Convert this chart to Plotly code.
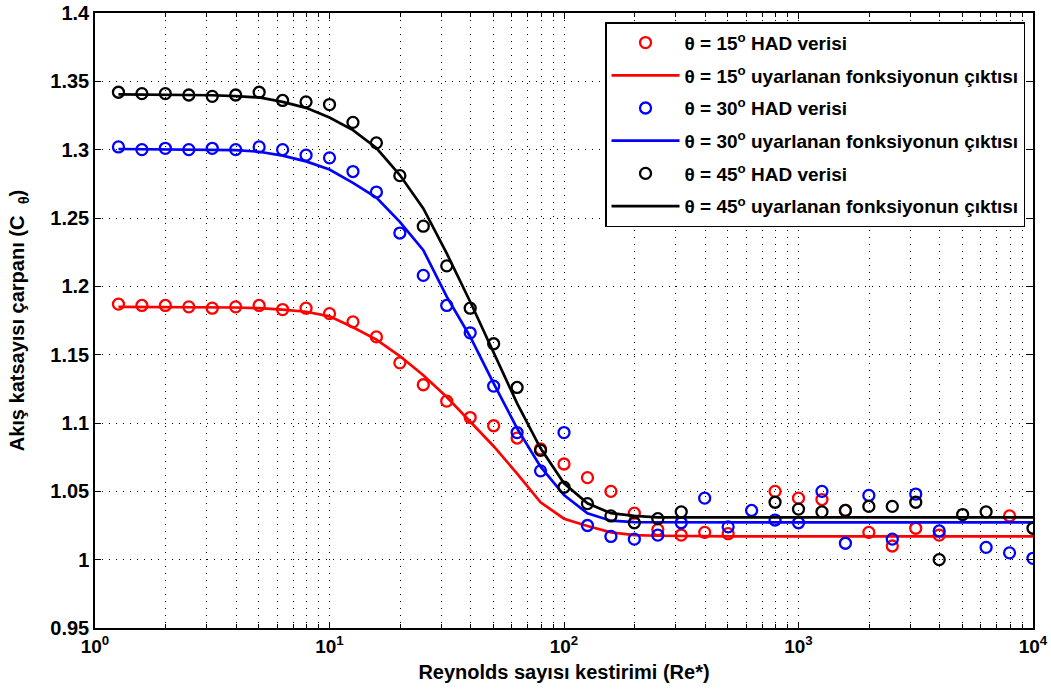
import plotly.graph_objects as go

# Reynolds number estimate (Re*) – sample positions
re_star = [1.259, 1.585, 1.995, 2.512, 3.162, 3.981, 5.012, 6.310, 7.943, 10.0,
           12.59, 15.85, 19.95, 25.12, 31.62, 39.81, 50.12, 63.10, 79.43, 100.0,
           125.9, 158.5, 199.5, 251.2, 316.2, 398.1, 501.2, 631.0, 794.3, 1000.0,
           1259.0, 1585.0, 1995.0, 2512.0, 3162.0, 3981.0, 5012.0, 6310.0, 7943.0, 10000.0]

# CFD (HAD) data
had_15 = [1.187, 1.186, 1.186, 1.185, 1.184, 1.185, 1.186, 1.183, 1.184, 1.180,
          1.174, 1.163, 1.144, 1.128, 1.116, 1.104, 1.098, 1.089, 1.081, 1.070,
          1.060, 1.050, 1.034, 1.022, 1.018, 1.020, 1.019, None, 1.050, 1.045,
          1.044, 1.036, 1.020, 1.010, 1.023, 1.018, None, None, 1.032, None]
had_30 = [1.302, 1.300, 1.301, 1.300, 1.301, 1.300, 1.302, 1.300, 1.296, 1.294,
          1.284, 1.269, 1.239, 1.208, 1.186, 1.166, 1.127, 1.093, 1.065, 1.093,
          1.025, 1.017, 1.015, 1.018, 1.027, 1.045, 1.024, 1.036, 1.029, 1.027,
          1.050, 1.012, 1.047, 1.015, 1.048, 1.021, None, 1.009, 1.005, 1.001]
had_45 = [1.342, 1.341, 1.341, 1.340, 1.339, 1.340, 1.342, 1.336, 1.335, 1.333,
          1.320, 1.305, 1.281, 1.244, 1.215, 1.184, 1.158, 1.126, 1.080, 1.053,
          1.041, 1.032, 1.027, 1.030, 1.035, None, None, None, 1.042, 1.037,
          1.035, 1.036, 1.039, 1.039, 1.042, 1.000, 1.033, 1.035, None, 1.023]

# fitted function output
fit_15 = [1.185, 1.185, 1.185, 1.185, 1.1848, 1.1845, 1.184, 1.183, 1.1814, 1.178,
          1.170, 1.161, 1.149, 1.135, 1.119, 1.101, 1.083, 1.063, 1.042, 1.030,
          1.0246, 1.020, 1.018, 1.0175, 1.0172, 1.0171, 1.017, 1.017, 1.017, 1.017,
          1.017, 1.017, 1.017, 1.017, 1.017, 1.017, 1.017, 1.017, 1.017, 1.017]
fit_30 = [1.3005, 1.3004, 1.3003, 1.3002, 1.300, 1.2997, 1.2985, 1.2956, 1.2914, 1.2855,
          1.2757, 1.265, 1.2472, 1.2265, 1.1924, 1.1631, 1.129, 1.0961, 1.068, 1.0473,
          1.0339, 1.0285, 1.0275, 1.0274, 1.0273, 1.0273, 1.0273, 1.0273, 1.0273, 1.0273,
          1.0273, 1.0273, 1.0273, 1.0273, 1.0273, 1.0273, 1.0273, 1.0273, 1.0273, 1.0273]
fit_45 = [1.3404, 1.3403, 1.3402, 1.340, 1.3398, 1.3392, 1.3382, 1.335, 1.3306, 1.3235,
          1.3143, 1.3012, 1.2814, 1.257, 1.2241, 1.1887, 1.151, 1.1144, 1.0815, 1.0559,
          1.0412, 1.034, 1.032, 1.031, 1.031, 1.031, 1.031, 1.031, 1.031, 1.031,
          1.031, 1.031, 1.031, 1.031, 1.031, 1.031, 1.031, 1.031, 1.031, 1.031]

x_tickvals = [1, 10, 100, 1000, 10000]
x_ticktext = ["10<sup>0</sup>", "10<sup>1</sup>", "10<sup>2</sup>", "10<sup>3</sup>", "10<sup>4</sup>"]
x_minor = [m * d for d in (1, 10, 100, 1000) for m in range(2, 10)]

FONT = "Liberation Sans, Arial, Helvetica, sans-serif"

series = [
    ("15", had_15, fit_15, "#ff0000"),
    ("30", had_30, fit_30, "#0000ff"),
    ("45", had_45, fit_45, "#000000"),
]

fig = go.Figure()
for ang, had, fit, col in series:
    fig.add_trace(go.Scatter(
        x=re_star, y=had, mode="markers",
        marker=dict(symbol="circle-open", size=11, color=col, line=dict(width=2.3, color=col)),
        name=f"θ = {ang}<sup>o</sup> HAD verisi", legendgroup=f"h{ang}",
    ))
    fig.add_trace(go.Scatter(
        x=re_star, y=fit, mode="lines",
        line=dict(color=col, width=2.7),
        name=f"θ = {ang}<sup>o</sup> uyarlanan fonksiyonun çıktısı", legendgroup=f"f{ang}",
    ))

grid_dash = "1px,6px"
fig.update_xaxes(
    type="log", range=[0, 4], automargin=False,
    tickvals=x_tickvals, ticktext=x_ticktext,
    ticks="inside", ticklen=6, tickwidth=1, tickcolor="black",
    showgrid=True, gridcolor="black", gridwidth=1, griddash=grid_dash,
    minor=dict(tickvals=x_minor, ticks="inside", ticklen=4, tickcolor="black",
               showgrid=True, gridcolor="black", gridwidth=1, griddash=grid_dash),
    showline=True, linecolor="black", linewidth=1.5, mirror="ticks",
    zeroline=False,
    tickfont=dict(family=FONT, size=19, color="black", weight="bold"),
    title=dict(text="Reynolds sayısı kestirimi (Re*)", standoff=9,
               font=dict(family=FONT, size=20, color="black", weight="bold")),
)
fig.update_yaxes(
    range=[0.95, 1.4], dtick=0.05, tick0=0.95, automargin=False,
    ticks="inside", ticklen=6, tickwidth=1, tickcolor="black",
    showgrid=True, gridcolor="black", gridwidth=1, griddash=grid_dash,
    showline=True, linecolor="black", linewidth=1.5, mirror="ticks",
    zeroline=False,
    tickfont=dict(family=FONT, size=20, color="black", weight="bold"),
    title=dict(text="Akış katsayısı çarpanı (C<sub>   θ</sub>)", standoff=20,
               font=dict(family=FONT, size=20, color="black", weight="bold")),
)

fig.update_layout(
    width=1051, height=693,
    margin=dict(l=95, r=18, t=13, b=65),
    paper_bgcolor="white", plot_bgcolor="white",
    font=dict(family=FONT, color="black"),
    showlegend=True,
    legend=dict(
        x=0.9915, y=0.985, xanchor="right", yanchor="top",
        bgcolor="white", bordercolor="black", borderwidth=1.5,
        font=dict(family=FONT, size=19, color="black", weight="bold"),
        traceorder="grouped", tracegroupgap=5, itemwidth=68,
    ),
)

fig.write_html("out.html")
